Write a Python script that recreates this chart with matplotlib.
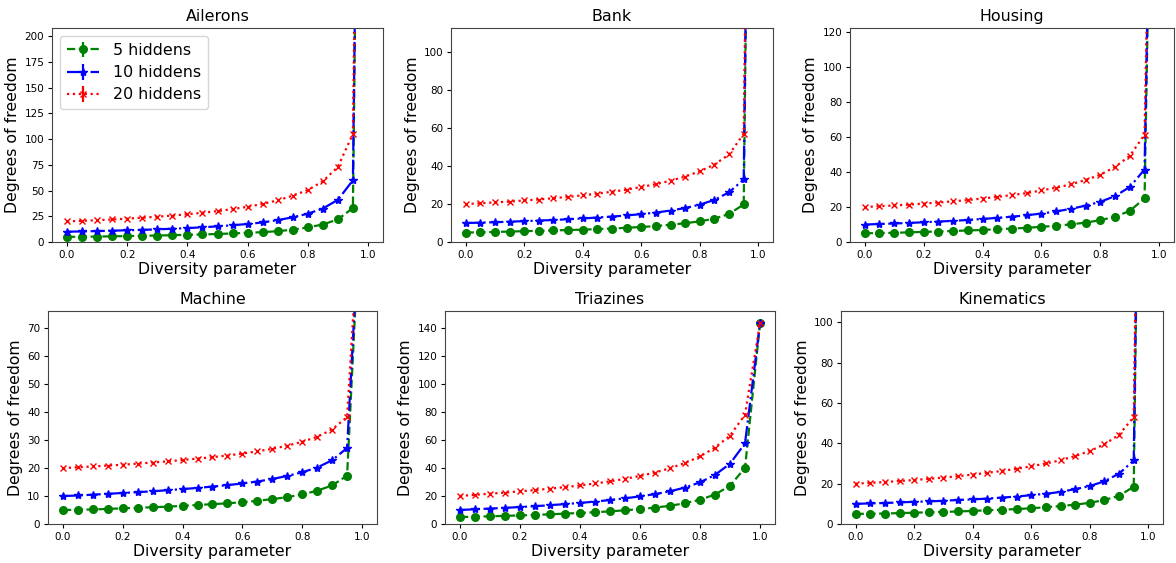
import matplotlib
matplotlib.use("Agg")
import matplotlib.pyplot as plt
import numpy as np

diversity = [0.0, 0.05, 0.1, 0.15, 0.2, 0.25, 0.3, 0.35, 0.4, 0.45, 0.5,
             0.55, 0.6, 0.65, 0.7, 0.75, 0.8, 0.85, 0.9, 0.95, 1.0]

series_labels = ["5 hiddens", "10 hiddens", "20 hiddens"]

datasets = ["Ailerons", "Bank", "Housing", "Machine", "Triazines", "Kinematics"]

ailerons_5 = [5, 5.1, 5.3, 5.5, 5.8, 6.0, 6.3, 6.6, 7.0, 7.3, 7.8, 8.3, 8.9, 9.6, 10.5, 12.0, 14.2, 17.0, 22.0, 33, 1300]
ailerons_10 = [10, 10.3, 10.6, 11.0, 11.4, 11.8, 12.3, 12.9, 13.5, 14.3, 15.2, 16.3, 17.5, 19.0, 21.3, 24, 27.5, 32.5, 41, 60, 1300]
ailerons_20 = [20, 20.6, 21.2, 21.9, 22.7, 23.6, 24.6, 25.7, 27.0, 28.4, 30.0, 32.0, 34.2, 37.0, 40.5, 45, 50.5, 59, 73, 105, 1300]

bank_5 = [5, 5.1, 5.3, 5.5, 5.7, 5.9, 6.1, 6.3, 6.5, 6.8, 7.1, 7.5, 7.9, 8.4, 9.1, 9.9, 10.9, 12.3, 14.8, 19.8, 700]
bank_10 = [10, 10.2, 10.4, 10.7, 11.0, 11.3, 11.6, 12.0, 12.4, 12.9, 13.4, 14.0, 14.7, 15.5, 16.6, 17.9, 19.7, 22.2, 26.2, 33, 700]
bank_20 = [20, 20.4, 20.9, 21.3, 21.9, 22.4, 23.1, 23.8, 24.6, 25.5, 26.5, 27.6, 29.0, 30.5, 32.3, 34.5, 37.3, 40.8, 46.2, 57, 700]

housing_5 = [5, 5.1, 5.3, 5.5, 5.8, 6.0, 6.3, 6.6, 6.9, 7.3, 7.7, 8.1, 8.7, 9.3, 10.1, 11.1, 12.5, 14.5, 17.8, 25, 506]
housing_10 = [10, 10.3, 10.6, 10.9, 11.3, 11.7, 12.1, 12.6, 13.2, 13.8, 14.5, 15.3, 16.3, 17.5, 19.0, 20.8, 23.0, 26.3, 31.5, 41.5, 506]
housing_20 = [20, 20.5, 20.9, 21.4, 22, 22.6, 23.3, 24.0, 24.9, 25.8, 26.9, 28.0, 29.5, 31.1, 33.0, 35.5, 38.5, 43, 49.3, 61.5, 506]

machine_5 = [5, 5.1, 5.2, 5.4, 5.6, 5.8, 6.0, 6.2, 6.5, 6.8, 7.1, 7.4, 7.8, 8.3, 8.9, 9.6, 10.6, 11.9, 13.8, 17.3, 127]
machine_10 = [10, 10.2, 10.5, 10.8, 11.1, 11.4, 11.7, 12.1, 12.5, 12.9, 13.4, 13.9, 14.5, 15.2, 16.1, 17.2, 18.5, 20.2, 22.8, 27.2, 127]
machine_20 = [20, 20.3, 20.6, 20.9, 21.2, 21.6, 22.0, 22.4, 22.9, 23.4, 23.9, 24.5, 25.2, 26.0, 26.9, 28.0, 29.4, 31.2, 33.8, 38.3, 127]

triazines_5 = [5, 5.2, 5.5, 5.8, 6.1, 6.5, 6.9, 7.4, 7.9, 8.4, 9.0, 9.8, 10.6, 11.7, 13.0, 14.8, 17.3, 21.0, 27.3, 40, 143]
triazines_10 = [10, 10.5, 11.0, 11.5, 12.1, 12.7, 13.4, 14.2, 15.0, 16.0, 17.1, 18.3, 19.7, 21.3, 23.3, 26.0, 29.7, 35.0, 43.0, 57.5, 143]
triazines_20 = [20, 20.8, 21.6, 22.4, 23.3, 24.2, 25.2, 26.3, 27.5, 28.9, 30.4, 32.2, 34.3, 36.7, 39.8, 43.5, 48.2, 54.5, 63, 78, 143]

kinematics_5 = [5, 5.1, 5.2, 5.4, 5.6, 5.8, 6.0, 6.2, 6.5, 6.8, 7.1, 7.4, 7.8, 8.3, 8.9, 9.6, 10.5, 11.9, 14.0, 18.5, 570]
kinematics_10 = [10, 10.2, 10.4, 10.7, 11.0, 11.2, 11.5, 11.9, 12.2, 12.6, 13.1, 13.6, 14.3, 15.0, 15.9, 17.3, 18.8, 21.2, 25.0, 31.5, 570]
kinematics_20 = [20, 20.4, 20.8, 21.3, 21.8, 22.4, 23.0, 23.7, 24.5, 25.4, 26.3, 27.4, 28.6, 30.0, 31.6, 33.7, 36.2, 39.5, 44.3, 53, 570]

values = {
    "Ailerons": [ailerons_5, ailerons_10, ailerons_20],
    "Bank": [bank_5, bank_10, bank_20],
    "Housing": [housing_5, housing_10, housing_20],
    "Machine": [machine_5, machine_10, machine_20],
    "Triazines": [triazines_5, triazines_10, triazines_20],
    "Kinematics": [kinematics_5, kinematics_10, kinematics_20],
}

y_tops = {"Ailerons": 208, "Bank": 112.8, "Housing": 122.5,
          "Machine": 76.2, "Triazines": 151.9, "Kinematics": 105.6}

W, H = 1176, 563
boxes = {  # left, right, top, bottom in pixels
    "Ailerons": (52, 383, 28, 242),
    "Bank": (451, 773, 28, 242),
    "Housing": (850, 1174, 28, 242),
    "Machine": (48, 377, 311, 524),
    "Triazines": (445, 775, 311, 524),
    "Kinematics": (841, 1163, 311, 524),
}

styles = [
    dict(color="green", linestyle="--", marker="o", markersize=5.5),
    dict(color="blue", linestyle="-.", marker="*", markersize=6),
    dict(color="red", linestyle=":", marker="x", markersize=5),
]

fig = plt.figure(figsize=(W / 100, H / 100), dpi=100)

for name in datasets:
    l, r, t, b = boxes[name]
    ax = fig.add_axes([l / W, (H - b) / H, (r - l) / W, (b - t) / H])
    for lab, ys, st in zip(series_labels, values[name], styles):
        ax.errorbar(diversity, ys, yerr=np.zeros(len(ys)), label=lab,
                    linewidth=1.6, **st)
    ax.set_ylim(0, y_tops[name])
    ax.set_title(name, fontsize=11.4, pad=5)
    ax.set_xlabel("Diversity parameter", fontsize=11.3, labelpad=2)
    ax.set_ylabel("Degrees of freedom", fontsize=11.3, labelpad=3)
    ax.tick_params(labelsize=7.5, length=3, pad=2.5)
    for sp in ax.spines.values():
        sp.set_color("#444444")
    if name == "Ailerons":
        ax.legend(loc="upper left", fontsize=11.4, handlelength=2.0,
                  borderpad=0.45, labelspacing=0.45, handletextpad=0.9)

fig.savefig("out.png", dpi=100)
